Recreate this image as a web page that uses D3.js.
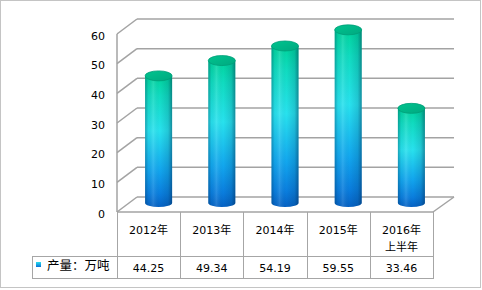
<!DOCTYPE html>
<html>
<head>
<meta charset="utf-8">
<script src="https://cdn.jsdelivr.net/npm/d3@7"></script>
<style>
  body { margin: 0; background: #fff; }
  svg text { font-family: "DejaVu Sans", "Noto Sans CJK SC", sans-serif; fill: #000; }
</style>
</head>
<body>
<svg id="chart" width="482" height="290"></svg>
<script>
// data
const categories = ["2012年", "2013年", "2014年", "2015年", "2016年上半年"];
const categoryLines = [["2012年"], ["2013年"], ["2014年"], ["2015年"], ["2016年", "上半年"]];
const values = [44.25, 49.34, 54.19, 59.55, 33.46];
const valueLabels = ["44.25", "49.34", "54.19", "59.55", "33.46"];
const yTicks = [0, 10, 20, 30, 40, 50, 60];
const seriesName = "产量：万吨";

const svg = d3.select("#chart");
const defs = svg.append("defs");

// layout
const left = 117, right = 433;
const floorY = 212, topY = 34;
const dx = 20, dy = -15;
const tableMid = 256, tableBottom = 278;
const legendLeft = 32;
const gridColor = "#a3a3a3";

const x = d3.scaleBand().domain(categories).range([left, right]).padding(0);
const yFront = d3.scaleLinear().domain([0, 60]).range([floorY, topY]);
const yBar = d3.scaleLinear().domain([0, 60]).range([209, 28.5]);
const barBottom = 203;
const rx = 13.5;

// gradients
const body = defs.append("linearGradient").attr("id", "bodyGrad")
  .attr("x1", 0).attr("y1", 0).attr("x2", 0).attr("y2", 1);
[["0%", "#00d49c"], ["15%", "#10dcc0"], ["42%", "#28e2ee"], ["72%", "#12a6ee"], ["90%", "#0a7ede"], ["100%", "#0662c4"]]
  .forEach(s => body.append("stop").attr("offset", s[0]).attr("stop-color", s[1]));

const shade = defs.append("linearGradient").attr("id", "shadeGrad")
  .attr("x1", 0).attr("y1", 0).attr("x2", 1).attr("y2", 0);
[["0%", "#003050", 0.35], ["12%", "#003050", 0.05], ["30%", "#ffffff", 0.12], ["55%", "#003050", 0], ["85%", "#003050", 0.15], ["100%", "#002040", 0.45]]
  .forEach(s => shade.append("stop").attr("offset", s[0]).attr("stop-color", s[1]).attr("stop-opacity", s[2]));

const topGrad = defs.append("linearGradient").attr("id", "topGrad")
  .attr("x1", 0).attr("y1", 0).attr("x2", 1).attr("y2", 1);
topGrad.append("stop").attr("offset", "0%").attr("stop-color", "#00c48e");
topGrad.append("stop").attr("offset", "100%").attr("stop-color", "#00a880");

const legendGrad = defs.append("linearGradient").attr("id", "legendGrad")
  .attr("x1", 0).attr("y1", 0).attr("x2", 0).attr("y2", 1);
legendGrad.append("stop").attr("offset", "0%").attr("stop-color", "#28e0ee");
legendGrad.append("stop").attr("offset", "100%").attr("stop-color", "#0a70d8");

// outer border
svg.append("rect").attr("x", 0.5).attr("y", 0.5).attr("width", 480).attr("height", 287)
  .attr("fill", "#fff").attr("stroke", "#c4c4c4");

// back wall gridlines + left wall diagonals
const grid = svg.append("g").attr("stroke", gridColor).attr("stroke-width", 1.5).attr("fill", "none");
yTicks.forEach(t => {
  const yf = yFront(t);
  grid.append("line").attr("x1", left + dx).attr("x2", right + dx + 1)
    .attr("y1", yf + dy).attr("y2", yf + dy);
  grid.append("line").attr("x1", left).attr("y1", yf).attr("x2", left + dx).attr("y2", yf + dy);
});
// left wall vertical
grid.append("line").attr("x1", left).attr("x2", left).attr("y1", yFront(60)).attr("y2", floorY);
// floor right edge
grid.append("line").attr("x1", right + dx + 1).attr("y1", floorY + dy).attr("x2", right).attr("y2", floorY);

// y axis labels
const yAxis = d3.axisLeft(yFront).tickValues(yTicks).tickSize(0).tickPadding(0).tickFormat(d3.format("d"));
const ya = svg.append("g").attr("transform", "translate(105,1.5)").call(yAxis);
ya.select(".domain").remove();
ya.selectAll("text").attr("font-size", 11).style("font-family", "DejaVu Sans, sans-serif");

// cylinders
const bars = svg.append("g");
categories.forEach((c, i) => {
  const cx = x(c) + x.bandwidth() / 2 + dx / 2;
  const yt = yBar(values[i]);
  const g = bars.append("g");
  const path = `M${cx - rx},${yt} L${cx - rx},${barBottom} A${rx},4 0 0 0 ${cx + rx},${barBottom} L${cx + rx},${yt} Z`;
  g.append("path").attr("d", path).attr("fill", "url(#bodyGrad)");
  g.append("path").attr("d", path).attr("fill", "url(#shadeGrad)");
  g.append("ellipse").attr("cx", cx).attr("cy", yt).attr("rx", rx).attr("ry", 5)
    .attr("fill", "url(#topGrad)").attr("stroke", "#009e78").attr("stroke-width", 0.8);
});

// floor front line
svg.append("line").attr("x1", left).attr("x2", right).attr("y1", floorY).attr("y2", floorY)
  .attr("stroke", gridColor).attr("stroke-width", 1.5);

// data table
const table = svg.append("g").attr("stroke", "#a6a6a6").attr("stroke-width", 1).attr("fill", "none");
x.domain().forEach(c => {
  table.append("line").attr("x1", Math.round(x(c)) + 0.5).attr("x2", Math.round(x(c)) + 0.5)
    .attr("y1", floorY).attr("y2", tableBottom);
});
table.append("line").attr("x1", right + 0.5).attr("x2", right + 0.5).attr("y1", floorY).attr("y2", tableBottom);
table.append("line").attr("x1", legendLeft + 0.5).attr("x2", legendLeft + 0.5).attr("y1", tableMid).attr("y2", tableBottom);
table.append("line").attr("x1", legendLeft).attr("x2", right + 1).attr("y1", tableMid + 0.5).attr("y2", tableMid + 0.5);
table.append("line").attr("x1", legendLeft).attr("x2", right + 1).attr("y1", tableBottom + 0.5).attr("y2", tableBottom + 0.5);

// category labels
categories.forEach((c, i) => {
  const t = svg.append("text").attr("x", x(c) + x.bandwidth() / 2).attr("y", 230)
    .attr("text-anchor", "middle").attr("font-size", 11).attr("dominant-baseline", "central");
  categoryLines[i].forEach((line, j) => {
    t.append("tspan").attr("x", x(c) + x.bandwidth() / 2).attr("dy", j === 0 ? 0 : 17).text(line);
  });
});

// value labels
categories.forEach((c, i) => {
  svg.append("text").attr("x", x(c) + x.bandwidth() / 2).attr("y", 268)
    .attr("text-anchor", "middle").attr("font-size", 11).attr("dominant-baseline", "central")
    .text(valueLabels[i]);
});

// legend
svg.append("rect").attr("x", 36).attr("y", 262).attr("width", 5).attr("height", 5)
  .attr("fill", "url(#legendGrad)");
svg.append("text").attr("x", 47).attr("y", 265.5).attr("font-size", 12.5)
  .attr("dominant-baseline", "central").text(seriesName);
</script>
</body>
</html>
